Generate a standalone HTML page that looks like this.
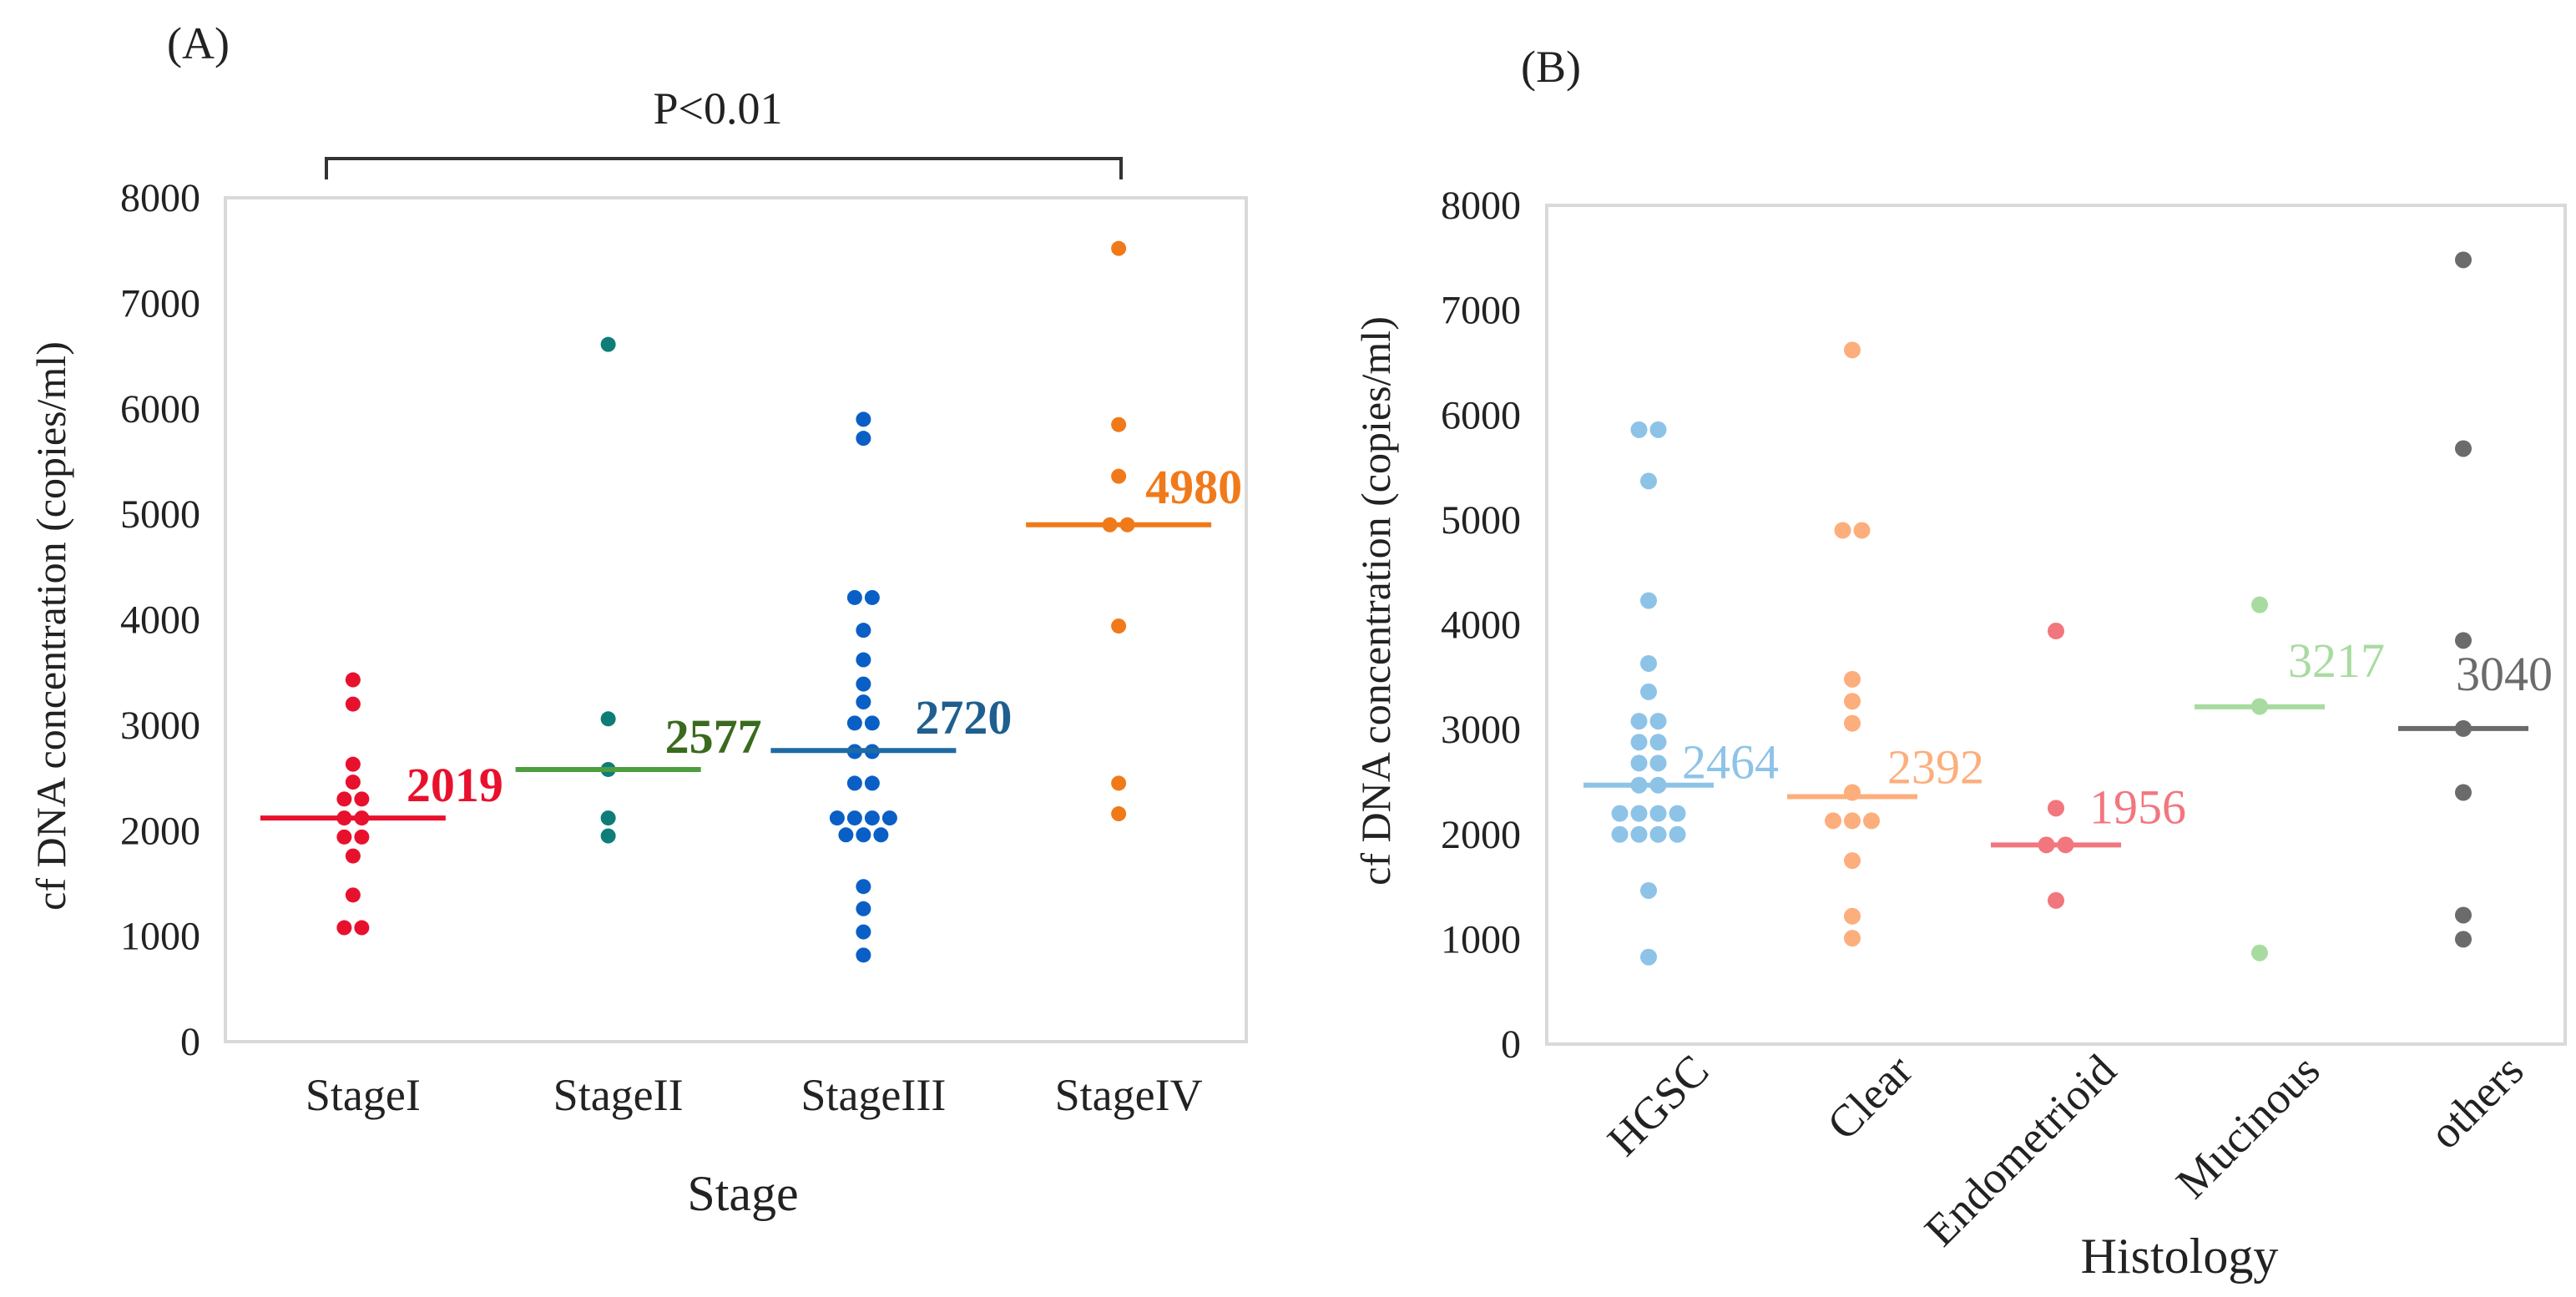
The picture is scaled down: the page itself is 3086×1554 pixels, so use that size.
<!DOCTYPE html>
<html><head><meta charset="utf-8"><style>
html,body{margin:0;padding:0;background:#fff;}
svg{display:block;font-family:"Liberation Serif",serif;}
</style></head><body>
<svg id="c" width="3086" height="1554" viewBox="0 0 3086 1554" xmlns="http://www.w3.org/2000/svg"></svg>
<script>
// Panel A data
const catsA = ["StageI","StageII","StageIII","StageIV"];
const ptsA0 = [3430,3200,2630,2460,2300,2300,2120,2120,1940,1940,1760,1390,1080,1080];
const ptsA1 = [6610,3060,2580,2120,1950];
const ptsA2 = [5900,5720,4210,4210,3900,3620,3390,3220,3020,3020,2750,2750,2450,2450,2120,2120,2120,2120,1960,1960,1960,1470,1260,1040,820];
const ptsA3 = [7520,5850,5360,4900,4900,3940,2450,2160];
const lineA = [2120,2580,2760,4900];
const labA = ["2019","2577","2720","4980"];
// Panel B data
const catsB = ["HGSC","Clear","Endometrioid","Mucinous","others"];
const ptsB0 = [5860,5860,5370,4230,3630,3360,3080,3080,2880,2880,2680,2680,2470,2470,2200,2200,2200,2200,2000,2000,2000,2000,1465,830];
const ptsB1 = [6620,4900,4900,3480,3270,3060,2400,2130,2130,2130,1750,1220,1010];
const ptsB2 = [3940,2250,1900,1900,1370];
const ptsB3 = [4190,3220,870];
const ptsB4 = [7480,5680,3850,3010,2400,1230,1000];
const lineB = [2470,2360,1900,3217,3010];
const labB = ["2464","2392","1956","3217","3040"];
const yTicks = [0,1000,2000,3000,4000,5000,6000,7000,8000];

const svg = document.getElementById('c');
const NS = "http://www.w3.org/2000/svg";
function mk(tag, attrs, parent){const e=document.createElementNS(NS,tag);for(const k in attrs)e.setAttribute(k,attrs[k]);(parent||svg).appendChild(e);return e;}

function panel(o){
  const g = mk('g',{});
  
  
  const y = v => o.y0 - (v/8000)*(o.y0-o.y1);
  const bw = (o.x1-o.x0)/o.cats.length;
  const cx = i => o.x0 + bw*(i+0.5);
  const fr = mk('rect',{x:o.x0,y:o.y1,width:o.x1-o.x0,height:o.y0-o.y1,fill:'none',stroke:'#d9d9d9','stroke-width':4},g);
  
  
  yTicks.forEach(t=>{
    const tx = mk('text',{x:o.tickX,y:y(t)+16,'text-anchor':'end','font-size':48,fill:'#222'},g);
    tx.textContent=t;
    
    
  });
  o.cats.forEach((c,i)=>{
    const pts=o.pts[i];
    const counts={};pts.forEach(v=>counts[v]=(counts[v]||0)+1);
    const seen={};
    pts.forEach(v=>{
      const n=counts[v];const k=(seen[v]=(seen[v]||0)+1)-1;
      const dx=(k-(n-1)/2)*o.sp;
      const d=mk('circle',{cx:cx(i)+dx,cy:y(v),r:o.r,fill:o.dot[i]},g);
      
      
    });
    const ln=mk('line',{x1:cx(i)-o.lw,x2:cx(i)+o.lw,y1:y(o.line[i]),y2:y(o.line[i]),stroke:o.lc[i],'stroke-width':6},g);
    
    
    const lt=mk('text',{x:cx(i)+o.labDx[i],y:y(o.line[i])+o.labDy[i],'font-size':58,'font-weight':o.bold?'bold':'normal',fill:o.lt[i]},g);
    lt.textContent=o.labs[i];
    
    
    let xl;
    if(o.rot){
      const ax=cx(i)+75, ay=o.y0+35;
      xl=mk('text',{x:ax,y:ay,'text-anchor':'end','font-size':54,fill:'#222',transform:`rotate(-45 ${ax} ${ay})`},g);
    } else {
      xl=mk('text',{x:cx(i)+12,y:o.y0+82,'text-anchor':'middle','font-size':54,fill:'#222'},g);
    }
    xl.textContent=c;
    
    
  });
}

panel({name:'panel-a',x0:270,x1:1493,y0:1248,y1:237,tickX:240,cats:catsA,pts:[ptsA0,ptsA1,ptsA2,ptsA3],
  line:lineA,labs:labA,dot:['#e8112d','#0e7d78','#0a5fc6','#f07a1a'],lc:['#e8112d','#4c9e3e','#1e6aa5','#f07a1a'],
  lt:['#e8112d','#3a6a1e','#1f5f8f','#f07a1a'],lw:111,r:9,sp:21,bold:true,
  labDx:[64,68,62,32],labDy:[-20,-20,-20,-26],rot:false});
panel({name:'panel-b',x0:1853,x1:3073,y0:1251,y1:246,tickX:1822,cats:catsB,pts:[ptsB0,ptsB1,ptsB2,ptsB3,ptsB4],
  line:lineB,labs:labB,dot:['#8ec3e8','#fcae7c','#f2767e','#a8dba0','#6b6b6b'],lc:['#8ec3e8','#fcae7c','#f2767e','#a8dba0','#6b6b6b'],
  lt:['#8ec3e8','#fcae7c','#f2767e','#a8dba0','#6b6b6b'],lw:78,r:10,sp:23,bold:false,
  labDx:[40,42,40,34,-9],labDy:[-8,-16,-26,-36,-46],rot:true});
</script>
<script>
const s2=document.getElementById('c');
function t(x,y,txt,size,name,extra){const e=document.createElementNS("http://www.w3.org/2000/svg",'text');e.setAttribute('x',x);e.setAttribute('y',y);e.setAttribute('font-size',size);e.setAttribute('fill','#222');if(extra)for(const k in extra)e.setAttribute(k,extra[k]);e.textContent=txt;


s2.appendChild(e);return e;}
t(200,70,"(A)",54,'panel-a-label');
t(1822,98,"(B)",54,'panel-b-label');
t(860,148,"P<0.01",54,'p-value-label',{'text-anchor':'middle'});
t(890,1450,"Stage",60,'x-axis-title-a',{'text-anchor':'middle'});
t(2611,1525,"Histology",60,'x-axis-title-b',{'text-anchor':'middle'});
t(78,750,"cf DNA concentration (copies/ml)",50,'y-axis-title-a',{'text-anchor':'middle',transform:'rotate(-90 78 750)'});
t(1665,720,"cf DNA concentration (copies/ml)",50,'y-axis-title-b',{'text-anchor':'middle',transform:'rotate(-90 1665 720)'});
const br=document.createElementNS("http://www.w3.org/2000/svg",'path');
br.setAttribute('d','M391 215 V190 H1343 V215');br.setAttribute('fill','none');br.setAttribute('stroke','#333');br.setAttribute('stroke-width',4);


s2.appendChild(br);
</script>
</body></html>
